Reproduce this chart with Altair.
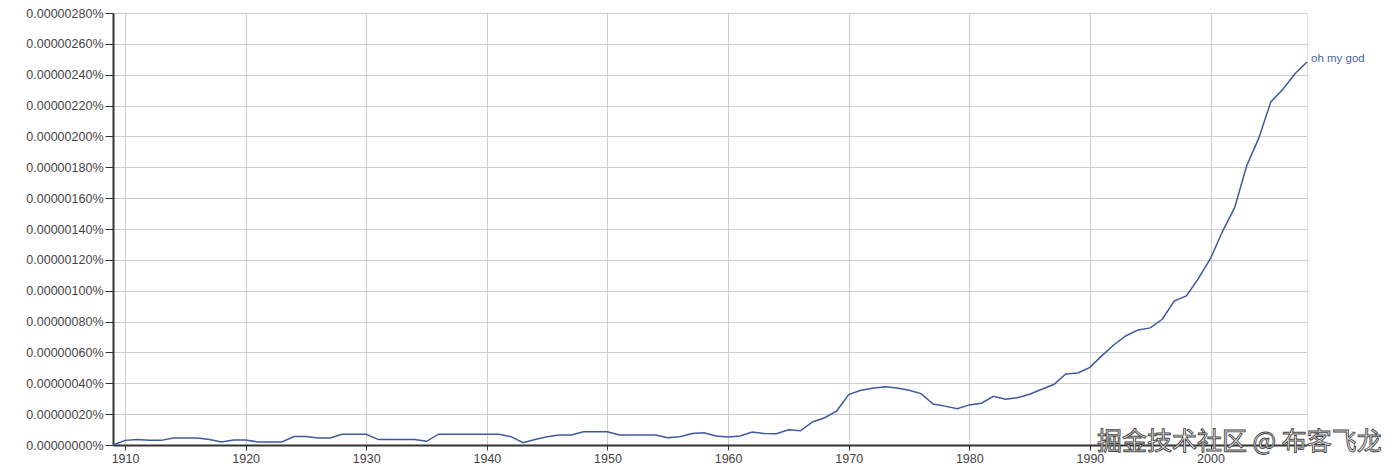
import altair as alt
import pandas as pd

years = list(range(1909, 2009))
# values in units of 1e-8 percent (0.00000280% == 280)
values = [
    0, 3, 3.5, 3, 3, 4.5, 4.5, 4.5, 3.5, 2, 3.3, 3.3, 2, 2, 2, 5.5, 5.5, 4.5, 4.5, 7,
    7, 7, 3.5, 3.5, 3.5, 3.5, 2.4, 7, 7, 7, 7, 7, 7, 5.4, 1.5, 3.5, 5.4, 6.5, 6.5, 8.6,
    8.6, 8.6, 6.5, 6.5, 6.5, 6.5, 4.7, 5.4, 7.5, 8, 5.9, 5.2, 5.9, 8.4, 7.5, 7.3, 9.9, 9.2, 14.9, 17.7,
    22, 32.7, 35.5, 36.8, 37.7, 37, 35.5, 33.3, 26.5, 25.2, 23.5, 26, 27.1, 31.6, 29.7, 30.6, 32.9, 36.1, 39.2, 46,
    46.7, 50.3, 57.9, 65, 70.8, 74.6, 75.9, 81.5, 93.4, 96.6, 108, 120.9, 138.5, 153.8, 181, 198.9, 222.4, 230.6, 240.6, 248.2,
]
series_name = "oh my god"
x_ticks = [1910, 1920, 1930, 1940, 1950, 1960, 1970, 1980, 1990, 2000]
y_ticks = list(range(0, 281, 20))
watermark = "掘金技术社区 @ 布客飞龙"

df = pd.DataFrame({"year": years, "value": values})
label_df = pd.DataFrame({"year": [years[-1]], "value": [values[-1]], "name": [series_name]})

line_color = "#3d5a9e"

x_enc = alt.X(
    "year:Q",
    scale=alt.Scale(domain=[1909, 2008], nice=False, zero=False),
    axis=alt.Axis(
        values=x_ticks, format="d", title=None, grid=True, gridColor="#cccccc",
        domainColor="#333333", domainWidth=2, tickColor="#333333", tickSize=5,
        labelFont="Liberation Sans", labelFontSize=12.5, labelColor="#444444", labelPadding=2,
        labelOverlap=False,
    ),
)
y_enc = alt.Y(
    "value:Q",
    scale=alt.Scale(domain=[0, 280], nice=False),
    axis=alt.Axis(
        values=y_ticks, title=None, grid=True, gridColor="#cccccc",
        labelExpr="format(datum.value / 1e8, '.8f') + '%'",
        domainColor="#333333", domainWidth=2, tickColor="#333333", tickSize=8,
        labelFont="Liberation Sans", labelFontSize=12.5, labelColor="#444444", labelPadding=2,
        labelOverlap=False,
    ),
)

line = alt.Chart(df).mark_line(color=line_color, strokeWidth=1.5).encode(x=x_enc, y=y_enc)

label = alt.Chart(label_df).mark_text(
    align="left", baseline="middle", dx=4, dy=-3, font="Liberation Sans", fontSize=11.5, color="#4a64a8"
).encode(x=x_enc, y=y_enc, text="name:N")

wm = alt.Chart(pd.DataFrame({"t": [watermark]})).mark_text(
    align="left", baseline="middle", font="Noto Sans CJK SC", fontSize=25,
    color="#f2f2f2", stroke="#444444", strokeWidth=0.9,
).encode(x=alt.value(984), y=alt.value(429), text="t:N")

chart = (
    alt.layer(line, label, wm)
    .properties(
        width=1194, height=432,
        autosize=alt.AutoSizeParams(type="none"),
        padding={"left": 105, "top": 5, "right": 85, "bottom": 22},
    )
    .configure_view(stroke=None)
    .configure(background="white")
)

chart.save("out.html", embed_options={"renderer": "svg", "actions": False})
